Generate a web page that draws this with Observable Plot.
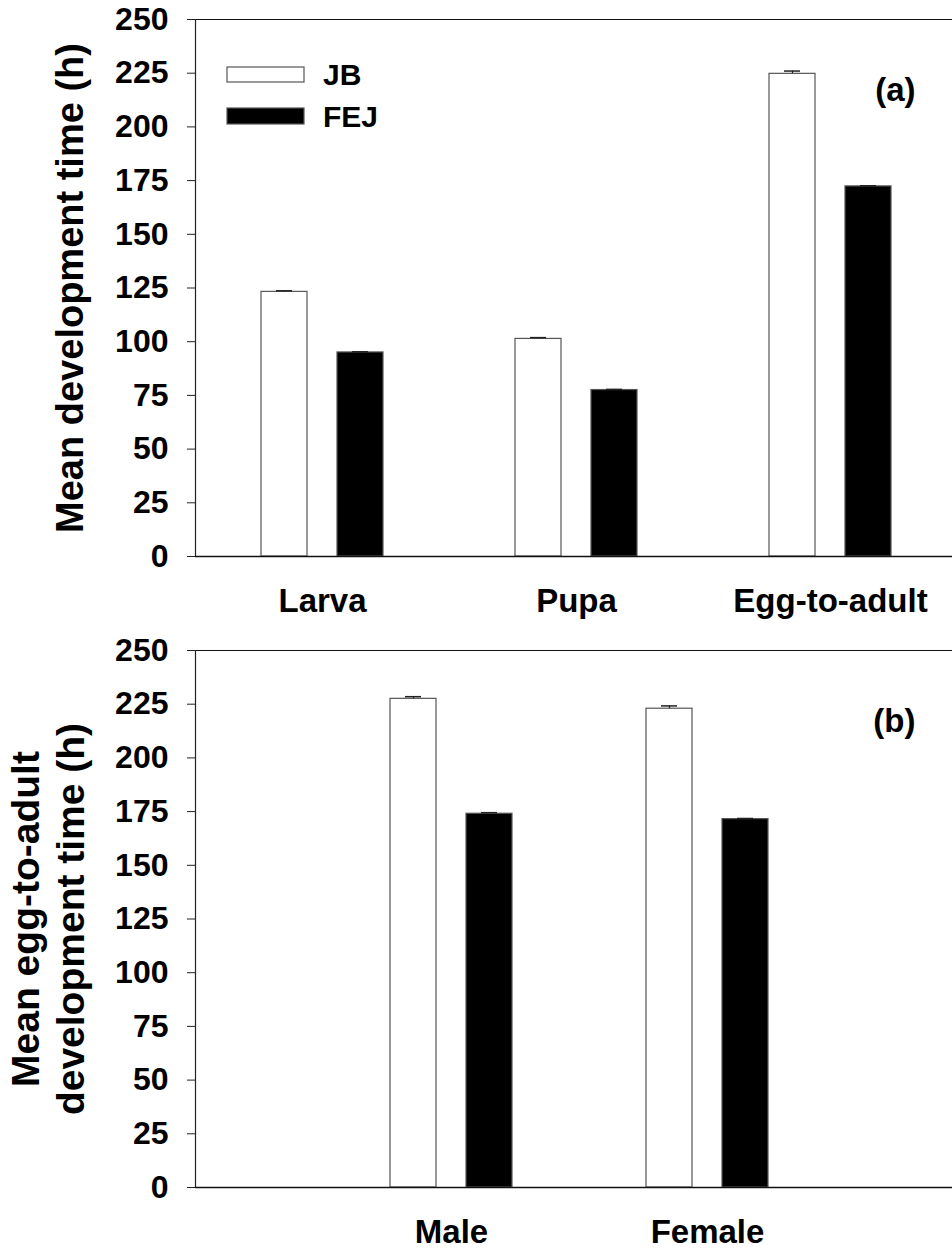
<!DOCTYPE html>
<html>
<head>
<meta charset="utf-8">
<script src="https://cdn.jsdelivr.net/npm/d3@7"></script>
<script src="https://cdn.jsdelivr.net/npm/@observablehq/plot@0.6"></script>
<style>
  body { margin: 0; background: #fff; overflow: hidden; }
  #chart { width: 952px; }
  #chart svg { display: block; }
</style>
</head>
<body>
<div id="chart"></div>
<script>
// Development stages (panel a)
const stages = ["Larva", "Pupa", "Egg-to-adult"];
const jbStageMean = [123.2, 101.3, 224.7];
const jbStageSE = [0.5, 0.6, 1.3];
const fejStageMean = [95.0, 77.5, 172.3];
const fejStageSE = [0.3, 0.3, 0.3];

// Egg-to-adult time by sex (panel b)
const sexes = ["Male", "Female"];
const jbSexMean = [227.5, 222.9];
const jbSexSE = [1.0, 1.3];
const fejSexMean = [174.0, 171.5];
const fejSexSE = [0.5, 0.3];

const strains = ["JB", "FEJ"];
const yTicks = [0, 25, 50, 75, 100, 125, 150, 175, 200, 225, 250];

const FONT = "'Liberation Sans', Arial, Helvetica, sans-serif";
const WIDTH = 952;
const LEFT = 195;

function panel({cats, jb, jbSE, fej, fejSE, xRange, height, marginTop, marginBottom, title, titleDx, titleSize, titleLineHeight, tag}) {
  const rows = [];
  cats.forEach((c, i) => {
    rows.push({cat: c, strain: "JB", mean: jb[i], se: jbSE[i]});
    rows.push({cat: c, strain: "FEJ", mean: fej[i], se: fejSE[i]});
  });

  // bar geometry around each band centre
  const half = (xRange[1] - xRange[0]) / cats.length / 2;
  const barW = 46, gap = 30, capW = 16;
  const barInset = {
    JB: {insetLeft: half - gap / 2 - barW, insetRight: half + gap / 2},
    FEJ: {insetLeft: half + gap / 2, insetRight: half - gap / 2 - barW}
  };
  const centre = {JB: -(gap / 2 + barW / 2), FEJ: gap / 2 + barW / 2};
  const capInset = {
    JB: {insetLeft: half + centre.JB - capW / 2, insetRight: half - centre.JB - capW / 2},
    FEJ: {insetLeft: half + centre.FEJ - capW / 2, insetRight: half - centre.FEJ - capW / 2}
  };

  const marks = [
    Plot.ruleY([250], {stroke: "#111", strokeWidth: 1.2}),
    Plot.frame({anchor: "left", stroke: "#222", strokeWidth: 1.2})
  ];
  for (const s of strains) {
    const d = rows.filter(r => r.strain === s);
    marks.push(
      Plot.barY(d, {x: "cat", y: "mean", ...barInset[s],
        fill: s === "JB" ? "white" : "black", stroke: "#555", strokeWidth: 1.2}),
      Plot.ruleX(d, {x: "cat", y1: "mean", y2: r => r.mean + r.se, dx: centre[s],
        stroke: "#222", strokeWidth: 1.2}),
      Plot.tickY(d, {x: "cat", y: r => r.mean + r.se, ...capInset[s],
        stroke: "#222", strokeWidth: 1.5})
    );
  }
  marks.push(
    Plot.ruleY([0], {stroke: "#111", strokeWidth: 1.6}),
    Plot.axisY({ticks: yTicks, tickSize: 8, tickPadding: 19, fontSize: 32,
      fontWeight: "bold", label: null, stroke: "#222"}),
    Plot.axisX({tickSize: 0, tickPadding: 32, fontSize: 33, fontWeight: "bold", label: null}),
    Plot.text([title], {frameAnchor: "left", textAnchor: "middle", lineAnchor: "middle",
      rotate: -90, dx: titleDx, fontSize: titleSize, fontWeight: "bold",
      lineHeight: titleLineHeight, fill: "black"}),
    Plot.text([tag], {frameAnchor: "top-right", textAnchor: "end", dx: -37, dy: 58,
      fontSize: 33, fontWeight: "bold", fill: "black"})
  );

  return Plot.plot({
    width: WIDTH,
    height,
    marginTop,
    marginBottom,
    marginLeft: LEFT,
    marginRight: 0,
    style: {fontFamily: FONT, fontWeight: "bold", color: "black", background: "white", overflow: "visible"},
    x: {type: "band", domain: cats, range: xRange, padding: 0},
    y: {domain: [0, 250], ticks: yTicks},
    marks
  });
}

const chartA = panel({
  cats: stages, jb: jbStageMean, jbSE: jbStageSE, fej: fejStageMean, fejSE: fejStageSE,
  xRange: [LEFT, LEFT + 762], height: 630, marginTop: 19, marginBottom: 74,
  title: "Mean development time (h)", titleDx: -125, titleSize: 38, titleLineHeight: 1, tag: "(a)"
});

const chartB = panel({
  cats: sexes, jb: jbSexMean, jbSE: jbSexSE, fej: fejSexMean, fejSE: fejSexSE,
  xRange: [LEFT + 128, LEFT + 640], height: 621, marginTop: 20, marginBottom: 64,
  title: "Mean egg-to-adult\ndevelopment time (h)", titleDx: -148, titleSize: 39,
  titleLineHeight: 1.15, tag: "(b)"
});

// legend for the two strains inside panel a
const legend = d3.select(chartA).append("g")
  .attr("font-family", FONT).attr("font-weight", "bold").attr("font-size", 30)
  .attr("text-anchor", "start");
const legendItems = [
  {label: "JB", fill: "white", y: 67, h: 15},
  {label: "FEJ", fill: "black", y: 108, h: 16}
];
for (const it of legendItems) {
  legend.append("rect")
    .attr("x", LEFT + 32).attr("y", it.y).attr("width", 77).attr("height", it.h)
    .attr("fill", it.fill).attr("stroke", "#555").attr("stroke-width", 1.2);
  legend.append("text")
    .attr("x", LEFT + 128).attr("y", it.y + it.h / 2).attr("dy", "0.36em")
    .attr("fill", "black").text(it.label);
}

const root = document.getElementById("chart");
root.append(chartA, chartB);
</script>
</body>
</html>
